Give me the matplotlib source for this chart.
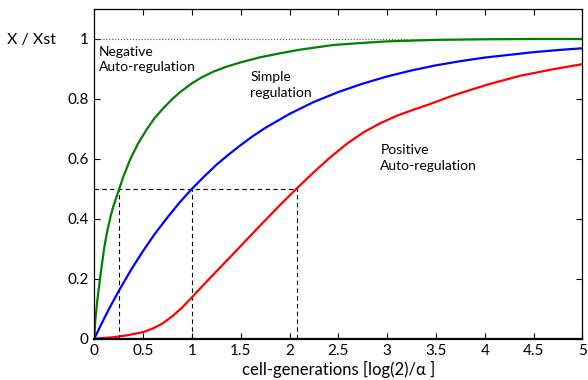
import matplotlib
matplotlib.use('Agg')
import matplotlib.pyplot as plt

plt.rcParams['font.family'] = ['Lato', 'DejaVu Sans']

# curves (x in cell-generations, y = X / Xst)
neg_x = [0, 0.01, 0.03, 0.06, 0.1, 0.13, 0.17, 0.2, 0.256, 0.3, 0.37, 0.45, 0.54, 0.62,
         0.71, 0.8, 0.88, 1.0, 1.1, 1.22, 1.35, 1.5, 1.7, 1.9, 2.1, 2.45, 2.8, 3.0, 3.5,
         4.0, 4.5, 5.0]
neg_y = [0, 0.06, 0.125, 0.205, 0.30, 0.355, 0.413, 0.447, 0.50, 0.543, 0.60, 0.652, 0.70,
         0.737, 0.77, 0.80, 0.823, 0.852, 0.872, 0.891, 0.907, 0.922, 0.939, 0.952, 0.964,
         0.98, 0.988, 0.992, 0.997, 0.999, 1.0, 1.0]

simple_x = [0, 0.05, 0.1, 0.15, 0.25, 0.375, 0.5, 0.625, 0.75, 0.875, 1.0, 1.125, 1.25,
            1.375, 1.5, 1.625, 1.75, 2.0, 2.25, 2.5, 2.75, 3.0, 3.25, 3.5, 3.75, 4.0,
            4.25, 4.5, 4.75, 5.0]
simple_y = [0, 0.034, 0.067, 0.099, 0.159, 0.229, 0.293, 0.352, 0.405, 0.455, 0.5, 0.541,
            0.58, 0.614, 0.646, 0.676, 0.703, 0.75, 0.79, 0.823, 0.851, 0.875, 0.895, 0.912,
            0.926, 0.938, 0.947, 0.956, 0.963, 0.969]

pos_x = [0, 0.2, 0.35, 0.5, 0.6, 0.7, 0.8, 0.9, 1.0, 1.1, 1.22, 1.4, 1.56, 1.73, 1.9,
         2.07, 2.25, 2.42, 2.59, 2.76, 2.93, 3.1, 3.27, 3.44, 3.68, 4.02, 4.36, 4.7, 5.0]
pos_y = [0, 0.005, 0.012, 0.022, 0.034, 0.051, 0.075, 0.104, 0.138, 0.173, 0.214, 0.275,
         0.33, 0.388, 0.445, 0.50, 0.556, 0.606, 0.651, 0.689, 0.719, 0.744, 0.764, 0.783,
         0.812, 0.847, 0.877, 0.899, 0.916]

half_times = [0.256, 1.0, 2.074]

xticks = [0, 0.5, 1, 1.5, 2, 2.5, 3, 3.5, 4, 4.5, 5]
xticklabels = ['0', '0.5', '1', '1.5', '2', '2.5', '3', '3.5', '4', '4.5', '5']
yticks = [0, 0.2, 0.4, 0.6, 0.8, 1]
yticklabels = ['0', '0.2', '0.4', '0.6', '0.8', '1']

fig = plt.figure(figsize=(5.88, 3.8), dpi=100)
ax = fig.add_axes([0.1604, 0.1087, 0.830, 0.8676])

ax.plot([0, 5], [1, 1], color='#555555', linestyle=':', linewidth=0.8)
ax.plot([0, max(half_times)], [0.5, 0.5], color='black', linestyle=(0, (4, 3)), linewidth=0.8)
for t in half_times:
    ax.plot([t, t], [0, 0.5], color='black', linestyle=(0, (4, 3)), linewidth=0.8)

ax.plot(neg_x, neg_y, color='#008000', linewidth=1.6)
ax.plot(simple_x, simple_y, color='#0000ff', linewidth=1.6)
ax.plot(pos_x, pos_y, color='#ff0000', linewidth=1.6)

ax.text(0.05, 0.978, 'Negative\nAuto-regulation', fontsize=10, va='top', ha='left', linespacing=1.35)
ax.text(1.6, 0.892, 'Simple\nregulation', fontsize=10, va='top', ha='left', linespacing=1.35)
ax.text(2.93, 0.648, 'Positive\nAuto-regulation', fontsize=10, va='top', ha='left', linespacing=1.35)

ax.set_xlim(0, 5)
ax.set_ylim(0, 1.1)
ax.set_xticks(xticks)
ax.set_xticklabels(xticklabels)
ax.set_yticks(yticks)
ax.set_yticklabels(yticklabels)
ax.tick_params(direction='in', top=True, right=True, length=4.5, width=0.8, labelsize=11, pad=4)

for side in ['left', 'right', 'top']:
    ax.spines[side].set_linewidth(0.9)
ax.spines['bottom'].set_linewidth(1.6)

ax.set_xlabel('cell-generations [log(2)/\u03b1 ]', fontsize=12, labelpad=2)
ax.set_ylabel('X / Xst', fontsize=11.5, rotation=0, va='center', ha='center')
ax.yaxis.set_label_coords(-0.128, 0.906)

fig.savefig('out.png', dpi=100)
